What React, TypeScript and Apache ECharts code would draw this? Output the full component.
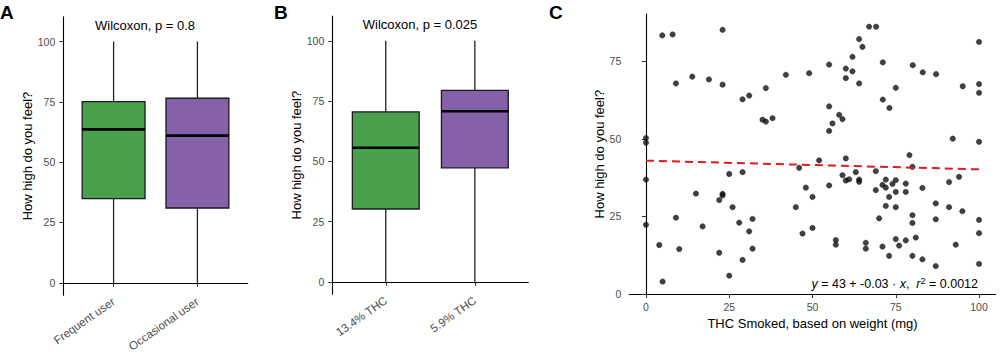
import React, { useEffect, useRef } from "react";
import * as echarts from "echarts";

// Panel A: user type
const catsA = ["Frequent user", "Occasional user"];
// [min, Q1, median, Q3, max]
const boxA = [
  [0, 34.9, 63.6, 75.1, 100],
  [0, 31.0, 61.0, 76.5, 100],
];
// Panel B: THC content
const catsB = ["13.4% THC", "5.9% THC"];
const boxB = [
  [0, 30.2, 55.6, 70.5, 100],
  [0, 47.3, 70.8, 79.4, 100],
];
const boxColors = ["#48a04d", "#8461a9"];
const yTicksBox = [0, 25, 50, 75, 100];

// Panel C: scatter THC smoked (mg) vs rating
const thcX = [
  4.9, 8.0, 23.0, 9.0, 13.9, 18.9, 23.0, 29.0, 31.0, 0, 0,
  67.0, 69.1, 64.0, 65.0, 62.0, 55.0, 60.0, 62.0, 60.0, 64.0, 49.0, 42.0, 36.0,
  55.0, 58.0, 59.0, 56.0, 55.0, 35.0, 36.0, 38.0,
  100, 71.1, 80.1, 83.1, 87.1, 75.0, 71.1, 73.1, 95.1, 100, 100, 92.1, 100, 79.1,
  0, 25, 29, 15, 23, 23, 22, 26, 9, 0, 17, 28, 32, 31, 4, 10, 22, 32, 29, 5, 25,
  52, 60, 46, 59, 60, 61, 63, 64, 64, 55, 48, 50, 45, 47, 50, 57, 57, 66, 66,
  69, 80, 91, 94, 69, 72, 71, 72, 74, 75, 78, 75, 78, 83, 73, 72, 75, 80, 80,
  87, 91, 95, 87, 70, 100, 100, 75, 78, 81, 71, 76, 93, 73, 80, 83, 87, 100,
];
const highY = [
  83.4, 83.7, 85.2, 67.9, 70.1, 69.2, 67.5, 62.8, 64.0, 50.3, 48.8,
  86.2, 86.2, 82.2, 79.7, 76.5, 74.0, 72.7, 71.8, 69.6, 67.9, 71.2, 70.7, 66.4,
  60.5, 57.8, 56.4, 55.0, 52.6, 56.2, 55.6, 56.7,
  81.3, 74.7, 73.8, 71.5, 70.9, 66.5, 62.7, 60.0, 67.0, 67.7, 64.9, 50.1, 49.1, 44.8,
  36.9, 38.7, 39.3, 32.4, 32.3, 31.8, 30.3, 28.0, 24.6, 22.3, 21.8, 23.0, 24.2, 20.2, 15.8, 14.5, 13.3, 14.6, 11.0, 4.0, 5.9,
  43.1, 43.7, 40.7, 38.3, 36.6, 37.0, 39.3, 36.9, 36.2, 35.0, 34.3, 31.3, 28.0, 19.5, 21.3, 17.4, 15.9, 16.5, 14.6,
  39.6, 41.0, 36.1, 37.8, 33.5, 36.9, 35.2, 34.3, 35.5, 36.7, 35.6, 32.9, 32.9, 34.2, 31.3, 28.4, 28.0, 25.4, 22.9,
  29.2, 28.0, 26.7, 24.1, 24.4, 23.9, 19.6, 17.7, 17.3, 18.2, 15.3, 15.6, 15.9, 12.3, 12.3, 11.2, 9.0, 9.7,
];
// fitted line endpoints (y = 43 - 0.03x)
const fitX = [0, 100];
const fitY = [43.0, 40.2];
const xTicksC = [0, 25, 50, 75, 100];
const yTicksC = [0, 25, 50, 75];

const FONT = "Liberation Sans, Arial, Helvetica, sans-serif";
const TICK_COLOR = "#4d4d4d";

function boxSeries(grid: number, data: number[][]) {
  return {
    type: "custom",
    xAxisIndex: grid,
    yAxisIndex: grid,
    data: data.map((d, i) => [i + 1, ...d]),
    encode: { x: 0, y: [1, 2, 3, 4, 5] },
    renderItem: (params: any, api: any) => {
      const x = api.value(0);
      const lo = api.coord([x, api.value(1)]);
      const q1 = api.coord([x, api.value(2)]);
      const md = api.coord([x, api.value(3)]);
      const q3 = api.coord([x, api.value(4)]);
      const hi = api.coord([x, api.value(5)]);
      const w = api.size([0.75, 0])[0];
      const fill = boxColors[params.dataIndex];
      const stroke = "#222";
      return {
        type: "group",
        children: [
          { type: "line", shape: { x1: lo[0], y1: lo[1], x2: q1[0], y2: q1[1] }, style: { stroke, lineWidth: 1.3 } },
          { type: "line", shape: { x1: q3[0], y1: q3[1], x2: hi[0], y2: hi[1] }, style: { stroke, lineWidth: 1.3 } },
          {
            type: "rect",
            shape: { x: q3[0] - w / 2, y: q3[1], width: w, height: q1[1] - q3[1] },
            style: { fill, stroke: "#1a1a1a", lineWidth: 1.3 },
          },
          {
            type: "line",
            shape: { x1: md[0] - w / 2, y1: md[1], x2: md[0] + w / 2, y2: md[1] },
            style: { stroke: "#000", lineWidth: 2.6 },
          },
        ],
      };
    },
  };
}

function catXAxis(grid: number, cats: string[]) {
  return {
    type: "value",
    gridIndex: grid,
    min: 0.4,
    max: 2.6,
    splitLine: { show: false },
    axisLine: { lineStyle: { color: "#000", width: 1.1 } },
    axisTick: { customValues: [1, 2], length: 4, lineStyle: { color: "#333" } },
    axisLabel: {
      customValues: [1, 2],
      formatter: (v: number) => cats[Math.round(v) - 1],
      rotate: 35,
      fontSize: 11.5,
      color: TICK_COLOR,
      fontFamily: FONT,
      margin: 5,
    },
  };
}

function valYAxis(grid: number, min: number, max: number, ticks: number[], nameGap: number) {
  return {
    type: "value",
    gridIndex: grid,
    min,
    max,
    name: "How high do you feel?",
    nameLocation: "middle",
    nameGap,
    nameTextStyle: { fontSize: 13, color: "#000", fontFamily: FONT },
    splitLine: { show: false },
    axisLine: { show: true, lineStyle: { color: "#000", width: 1.1 } },
    axisTick: { show: true, customValues: ticks, length: 4, lineStyle: { color: "#333" } },
    axisLabel: { customValues: ticks, fontSize: 10.5, color: TICK_COLOR, fontFamily: FONT, margin: 8 },
  };
}

export default function App() {
  const ref = useRef<HTMLDivElement>(null);
  useEffect(() => {
    document.body.style.margin = "0";
    if (!ref.current) return;
    const chart = echarts.init(ref.current, undefined, { renderer: "svg" });
    const scatterData = thcX.map((x, i) => [x, highY[i]]);
    const fitData = fitX.map((x, i) => [x, fitY[i]]);
    chart.setOption({
      animation: false,
      backgroundColor: "#fff",
      textStyle: { fontFamily: FONT },
      grid: [
        { left: 63.3, top: 16.7, width: 184.4, height: 278.6, outerBoundsMode: "none" },
        { left: 332.3, top: 16, width: 196, height: 278.3, outerBoundsMode: "none" },
        { left: 629.3, top: 14, width: 366.4, height: 280.3, outerBoundsMode: "none" },
      ],
      xAxis: [
        catXAxis(0, catsA),
        catXAxis(1, catsB),
        {
          type: "value",
          gridIndex: 2,
          min: -5,
          max: 105,
          name: "THC Smoked, based on weight (mg)",
          nameLocation: "middle",
          nameGap: 22,
          nameTextStyle: { fontSize: 13, color: "#000", fontFamily: FONT },
          splitLine: { show: false },
          axisLine: { lineStyle: { color: "#000", width: 1.1 } },
          axisTick: { show: true, customValues: xTicksC, length: 4, lineStyle: { color: "#333" } },
          axisLabel: { customValues: xTicksC, fontSize: 10.5, color: TICK_COLOR, fontFamily: FONT, margin: 7 },
        },
      ],
      yAxis: [
        valYAxis(0, -5.2, 110.3, yTicksBox, 29),
        valYAxis(1, -5.2, 110.3, yTicksBox, 26),
        valYAxis(2, -0.1, 90.3, yTicksC, 20),
      ],
      series: [
        boxSeries(0, boxA),
        boxSeries(1, boxB),
        {
          type: "scatter",
          xAxisIndex: 2,
          yAxisIndex: 2,
          data: scatterData,
          symbolSize: 5.5,
          itemStyle: { color: "#111", borderColor: "#000", borderWidth: 0.4 },
        },
        {
          type: "line",
          xAxisIndex: 2,
          yAxisIndex: 2,
          data: fitData,
          symbol: "none",
          lineStyle: { color: "#e3191c", width: 2, type: [8, 5] },
        },
      ],
      graphic: [
        { type: "text", left: 0, top: 3, style: { text: "A", font: `bold 19px ${FONT}`, fill: "#000" } },
        { type: "text", left: 274, top: 3, style: { text: "B", font: `bold 19px ${FONT}`, fill: "#000" } },
        { type: "text", left: 549, top: 3, style: { text: "C", font: `bold 19px ${FONT}`, fill: "#000" } },
        {
          type: "text",
          x: 145,
          y: 25,
          style: { text: "Wilcoxon, p = 0.8", font: `13px ${FONT}`, fill: "#000", align: "center", verticalAlign: "middle" },
        },
        {
          type: "text",
          x: 420,
          y: 24,
          style: { text: "Wilcoxon, p = 0.025", font: `13px ${FONT}`, fill: "#000", align: "center", verticalAlign: "middle" },
        },
        {
          type: "text",
          x: 978,
          y: 284,
          style: {
            text: "{i|y} = 43 + -0.03 · {i|x},  {i|r}{sup|2} = 0.0012",
            align: "right",
            verticalAlign: "middle",
            fill: "#000",
            font: `12.5px ${FONT}`,
            rich: {
              i: { fontStyle: "italic", fontSize: 12.5, fontFamily: FONT },
              sup: { fontSize: 9, fontFamily: FONT, verticalAlign: "top", padding: [0, 0, 6, 0] },
            },
          },
        },
      ],
    });
    return () => chart.dispose();
  }, []);
  return <div ref={ref} style={{ width: 1000, height: 357 }} />;
}
